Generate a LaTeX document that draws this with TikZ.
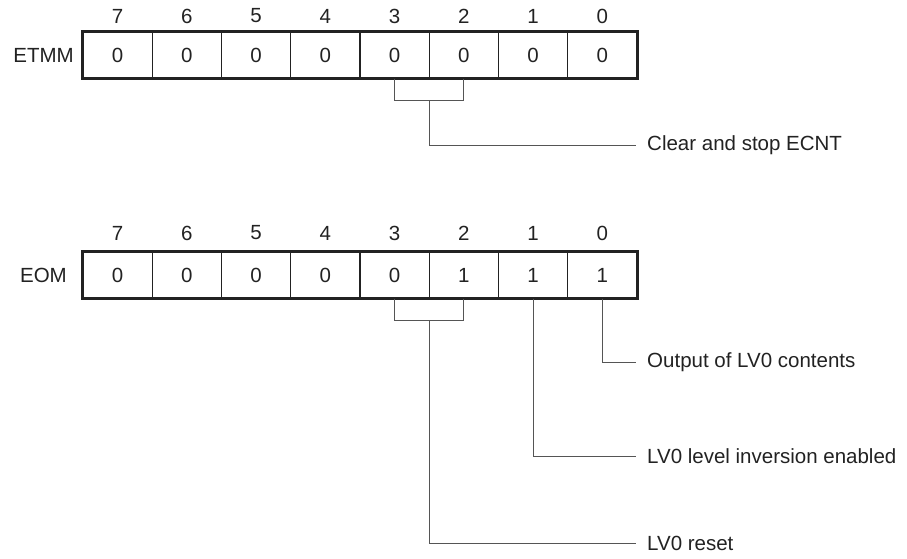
\documentclass[tikz,border=0pt]{standalone}
\usepackage{fontspec}
\setmainfont{Liberation Sans}
\usetikzlibrary{calc}
\definecolor{ink}{HTML}{222222}
\definecolor{wire}{HTML}{555555}
\begin{document}
\begin{tikzpicture}[x=1pt,y=-1pt,
  font=\fontsize{20.5}{24}\selectfont, text=ink,
  cell/.style={draw=ink, line width=1.1pt, minimum width=69.25pt, minimum height=46pt, inner sep=0pt, anchor=center},
  bitnum/.style={inner sep=0pt, anchor=center},
  regname/.style={inner sep=0pt, anchor=east},
  desc/.style={inner sep=0pt, anchor=west},
  conn/.style={draw=wire, line width=1pt},
  frame/.style={draw=ink, line width=2pt}]
\useasboundingbox (0,0) rectangle (907,558);
% ETMM register
\foreach \b/\v [count=\k from 0] in {7/0,6/0,5/0,4/0,3/0,2/0,1/0,0/0}{
  \node[cell] (e\b) at ({83+69.25*(\k+0.5)},55) {\v};
  \node[bitnum] (en\b) at ({83+69.25*(\k+0.5)},16) {\b};
}
\draw[frame] (e7.north west) rectangle (e0.south east);
\node[regname] (etmm) at (74,55) {ETMM};
% EOM register
\foreach \b/\v [count=\k from 0] in {7/0,6/0,5/0,4/0,3/0,2/1,1/1,0/1}{
  \node[cell] (o\b) at ({83+69.25*(\k+0.5)},275) {\v};
  \node[bitnum] (on\b) at ({83+69.25*(\k+0.5)},233) {\b};
}
\draw[frame] (o7.north west) rectangle (o0.south east);
\node[regname] (eom) at (67,275) {EOM};
% ETMM connectors
\node[desc] (ecnt) at (647,145) {Clear and stop ECNT};
\coordinate (eb3) at (e3.south |- 0,100);
\coordinate (eb2) at (e2.south |- 0,100);
\coordinate (ebm) at ($(eb3)!0.5!(eb2)$);
\draw[conn] (e3.south) -- (eb3) -- (eb2) -- (e2.south);
\draw[conn] (ebm) |- ([xshift=-11pt]ecnt.west);
% EOM connectors
\node[desc] (out) at (647,362) {Output of LV0 contents};
\node[desc] (inv) at (647,456) {LV0 level inversion enabled};
\node[desc] (rst) at (647,543) {LV0 reset};
\coordinate (ob3) at (o3.south |- 0,320);
\coordinate (ob2) at (o2.south |- 0,320);
\coordinate (obm) at ($(ob3)!0.5!(ob2)$);
\draw[conn] (o3.south) -- (ob3) -- (ob2) -- (o2.south);
\draw[conn] (obm) |- ([xshift=-11pt]rst.west);
\draw[conn] (o1.south) |- ([xshift=-11pt]inv.west);
\draw[conn] (o0.south) |- ([xshift=-11pt]out.west);
\end{tikzpicture}
\end{document}
